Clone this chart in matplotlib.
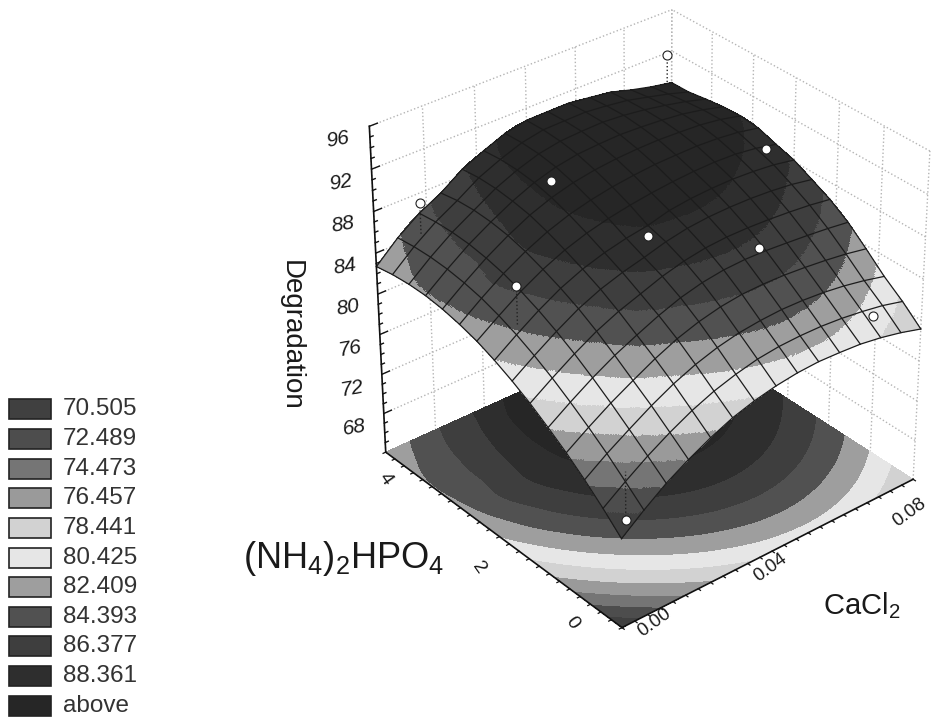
import numpy as np
import matplotlib
matplotlib.use('Agg')
import matplotlib.pyplot as plt
import matplotlib.tri as mtri
from matplotlib.colors import ListedColormap, BoundaryNorm
from matplotlib.patches import Rectangle
from mpl_toolkits.mplot3d import proj3d

plt.rcParams['font.family'] = ['Liberation Sans', 'DejaVu Sans']
plt.rcParams['mathtext.default'] = 'regular'

# ---------- data ----------
cacl2 = np.linspace(0, 0.08, 15)
nh4 = np.linspace(0, 4, 15)
# field that sets the colour bands (surface and floor)
band_field = np.array([
    [72.76,74.26,75.60,76.75,77.73,78.54,79.17,79.62,79.90,80.01,79.93,79.69,79.27,78.67,77.89],
    [74.32,75.76,77.04,78.14,79.08,79.85,80.44,80.87,81.12,81.20,81.12,80.86,80.44,79.84,79.07],
    [75.73,77.12,78.34,79.40,80.30,81.03,81.59,81.99,82.23,82.30,82.20,81.94,81.51,80.92,80.17],
    [77.00,78.33,79.51,80.53,81.39,82.08,82.62,83.00,83.22,83.28,83.18,82.92,82.50,81.92,81.18],
    [78.11,79.40,80.54,81.52,82.35,83.02,83.53,83.90,84.10,84.15,84.05,83.80,83.38,82.82,82.10],
    [79.09,80.33,81.43,82.38,83.18,83.82,84.32,84.67,84.87,84.92,84.82,84.58,84.18,83.63,82.93],
    [79.91,81.12,82.18,83.10,83.88,84.51,84.99,85.33,85.53,85.58,85.49,85.26,84.88,84.35,83.68],
    [80.59,81.77,82.80,83.69,84.45,85.06,85.54,85.88,86.08,86.14,86.06,85.84,85.48,84.98,84.35],
    [81.13,82.27,83.28,84.15,84.89,85.50,85.97,86.31,86.51,86.58,86.52,86.32,85.99,85.52,84.93],
    [81.51,82.63,83.62,84.47,85.20,85.80,86.28,86.62,86.83,86.92,86.88,86.71,86.40,85.98,85.42],
    [81.76,82.60,83.55,84.45,85.20,85.99,86.46,86.82,87.04,87.15,87.13,86.99,86.72,86.34,85.82],
    [81.85,82.55,83.50,84.35,85.15,86.05,86.53,86.90,87.14,87.27,87.28,87.18,86.95,86.61,86.14],
    [81.80,82.40,83.35,84.20,85.00,85.98,86.48,86.86,87.13,87.29,87.33,87.26,87.08,86.79,86.38],
    [81.60,82.15,83.10,83.94,84.77,85.79,86.30,86.71,87.01,87.19,87.28,87.25,87.12,86.87,86.52],
    [81.25,81.80,82.70,83.60,84.40,85.47,86.01,86.44,86.77,86.99,87.12,87.14,87.06,86.87,86.59],
])
# what must be added to reach the height read on the vertical axis
height_lift = np.array([
    [0.00,0.20,0.40,0.50,0.60,0.70,0.70,0.70,0.70,0.70,0.70,0.80,0.90,1.05,1.25],
    [0.10,0.20,0.35,0.50,0.65,0.75,0.80,0.85,0.85,0.85,0.90,1.00,1.15,1.40,1.65],
    [0.20,0.30,0.40,0.60,0.80,0.95,1.05,1.10,1.10,1.15,1.20,1.30,1.45,1.65,1.90],
    [0.30,0.40,0.55,0.70,0.95,1.20,1.35,1.45,1.50,1.50,1.55,1.65,1.85,2.15,2.50],
    [0.40,0.55,0.75,0.95,1.10,1.35,1.60,1.75,1.85,1.90,1.95,2.05,2.30,2.65,3.10],
    [0.55,0.75,1.00,1.25,1.40,1.50,1.75,1.95,2.10,2.20,2.30,2.45,2.70,3.05,3.45],
    [0.70,0.95,1.25,1.55,1.70,1.75,1.80,2.05,2.25,2.40,2.55,2.75,3.00,3.30,3.60],
    [0.85,1.15,1.50,1.80,1.95,2.00,2.00,2.00,2.35,2.55,2.75,3.00,3.25,3.55,3.80],
    [1.00,1.35,1.75,2.05,2.25,2.35,2.40,2.45,2.55,2.70,2.90,3.15,3.40,3.60,3.75],
    [1.10,1.55,2.00,2.35,2.60,2.75,2.80,2.85,2.90,3.00,3.10,3.30,3.50,3.70,3.85],
    [1.20,1.95,2.47,2.82,3.14,3.15,3.25,3.25,3.25,3.25,3.30,3.35,3.50,3.60,3.65],
    [1.30,2.23,2.78,3.17,3.49,3.50,3.65,3.65,3.55,3.50,3.40,3.35,3.35,3.30,3.25],
    [1.35,2.46,3.01,3.40,3.82,3.75,3.95,3.95,3.80,3.70,3.50,3.30,3.10,2.95,2.80],
    [1.40,2.65,3.20,3.55,4.05,3.95,4.20,4.20,3.95,3.80,3.50,3.25,2.90,2.65,2.40],
    [1.45,2.80,3.40,3.59,4.23,4.10,4.40,4.40,4.10,3.90,3.50,3.20,2.70,2.40,2.30],
])
point_x = [0.006, 0.040, 0.072, 0.006, 0.040, 0.072, 0.006, 0.040, 0.072]
point_y = [0.3, 0.3, 0.3, 2.0, 2.0, 2.0, 3.6, 3.6, 3.6]
point_z = [72.10, 92.05, 80.55, 87.45, 86.85, 90.40, 89.35, 86.35, 94.00]
drop_index = [0, 3, 6, 8]
drop_end = [76.8, 83.7, 86.2, 91.2]

legend_labels = ['70.505', '72.489', '74.473', '76.457', '78.441', '80.425',
                 '82.409', '84.393', '86.377', '88.361', 'above']
band_colors = ['#404040', '#4d4d4d', '#757575', '#9a9a9a', '#d2d2d2', '#e6e6e6',
               '#9e9e9e', '#515151', '#3e3e3e', '#2e2e2e', '#262626']
band_limits = [74.08, 75.39, 76.69, 78.00, 79.30, 80.60, 81.91, 83.22, 84.52, 85.84]

z_ticks = [68, 72, 76, 80, 84, 88, 92, 96]
x_tick_labels = ['0.00', '0.04', '0.08']
x_tick_values = [0.00, 0.04, 0.08]
y_tick_labels = ['0', '2', '4']
y_tick_values = [0, 2, 4]

surface_height = band_field + height_lift

# ---------- figure ----------
W, H = 936, 718
fig = plt.figure(figsize=(W / 100, H / 100), dpi=100, facecolor='white')
R = [314.52, 77.55, 649.16, 649.16]
ax = fig.add_axes([R[0] / W, R[1] / H, R[2] / W, R[3] / H], projection='3d',
                  computed_zorder=False)
ax.set_xlim(0, .08); ax.set_ylim(0, 4); ax.set_zlim(64, 96)
ax.view_init(elev=32.297, azim=-129.818)
ax.set_proj_type('persp', focal_length=.965)
ax.set_box_aspect((.999, .997, 1.0))
ax.set_axis_off()
ax.patch.set_alpha(0)

X0, X1, Y0, Y1, Z0, Z1 = 0, .08, 0, 4, 64, 96
grid_kw = dict(color='#b4b4b4', ls=':', lw=1.0, zorder=1)
for xv in np.linspace(X0, X1, 7):
    ax.plot([xv, xv], [Y1, Y1], [Z0, Z1], **grid_kw)
for yv in np.linspace(Y0, Y1, 7):
    ax.plot([X1, X1], [yv, yv], [Z0, Z1], **grid_kw)
for zv in z_ticks:
    ax.plot([X0, X1], [Y1, Y1], [zv, zv], **grid_kw)
    ax.plot([X1, X1], [Y0, Y1], [zv, zv], **grid_kw)

GX, GY = np.meshgrid(cacl2, nh4)
tri = mtri.Triangulation(GX.ravel(), GY.ravel())
refiner = mtri.UniformTriRefiner(tri)
tri_fine, band_fine = refiner.refine_field(band_field.ravel(), subdiv=4)
_, height_fine = refiner.refine_field(surface_height.ravel(), subdiv=4)

bounds = [0] + band_limits + [200]
cmap = ListedColormap(band_colors)
norm = BoundaryNorm(bounds, cmap.N)

ax.tricontourf(tri_fine, band_fine, levels=band_limits, colors=band_colors, extend='both',
               zdir='z', offset=Z0, zorder=2, antialiased=False)
poly = ax.plot_trisurf(tri_fine, height_fine, cmap=cmap, norm=norm, linewidth=0,
                       antialiased=False, shade=False, zorder=3)
poly.set_array(band_fine[tri_fine.get_masked_triangles()].mean(axis=1))

line_kw = dict(color='#1c1c1c', lw=0.9, zorder=4)
for j in range(len(nh4)):
    ax.plot(cacl2, np.full(len(cacl2), nh4[j]), surface_height[j, :], **line_kw)
for i in range(len(cacl2)):
    ax.plot(np.full(len(nh4), cacl2[i]), nh4, surface_height[:, i], **line_kw)

for k, zend in zip(drop_index, drop_end):
    ax.plot([point_x[k]] * 2, [point_y[k]] * 2, [point_z[k], zend], color='#222222',
            ls=':', lw=1.0, zorder=4.5)
ax.plot(point_x, point_y, point_z, ls='none', marker='o', ms=6.5, mfc='white', mec='#222222',
        mew=0.8, zorder=5)

# axes lines and ticks
ax_kw = dict(color='#111111', lw=1.2, zorder=6)
ax.plot([X0, X0], [Y1, Y1], [Z0, Z1], **ax_kw)
ax.plot([X0, X1], [Y0, Y0], [Z0, Z0], **ax_kw)
ax.plot([X0, X0], [Y0, Y1], [Z0, Z0], **ax_kw)
for zv in np.arange(65, 96.5, 1):
    ln = .0020 if zv in z_ticks else .0008
    ax.plot([X0, X0 + ln], [Y1, Y1], [zv, zv], color='#111111', lw=1.0, zorder=6)
for xv in np.linspace(X0, X1, 25):
    ax.plot([xv, xv], [Y0, Y0 - .035], [Z0, Z0], color='#111111', lw=0.9, zorder=6)
for yv in np.linspace(Y0, Y1, 25):
    ax.plot([X0, X0 - .0007], [yv, yv], [Z0, Z0], color='#111111', lw=0.9, zorder=6)

# overlay: legend, tick labels and axis names
ov = fig.add_axes([0, 0, 1, 1])
ov.set_xlim(0, W); ov.set_ylim(H, 0); ov.axis('off'); ov.patch.set_alpha(0)

ax.apply_aspect()
M = ax.get_proj()
def to_px(x, y, z):
    xs, ys, _ = proj3d.proj_transform(x, y, z, M)
    px = ax.transData.transform((float(xs), float(ys)))
    return px[0], H - px[1]

txt_kw = dict(color='#1a1a1a', ha='center', va='center')
for zv in z_ticks:
    px, py = to_px(-.0077, Y1, zv)
    ov.text(px, py + 1, str(zv), fontsize=15, style='italic', rotation=10, **txt_kw)
for val, lab, dx, dy in zip(x_tick_values, x_tick_labels, [.006, -.004, -.009], [-.15, -.2, -.42]):
    px, py = to_px(val + dx, dy, Z0)
    ov.text(px, py, lab, fontsize=13.5, rotation=36, **txt_kw)
for val, lab, dx, dy in zip(y_tick_values, y_tick_labels, [-.0068, -.0098, -.0058], [.38, -.29, -.40]):
    px, py = to_px(dx, val + dy, Z0)
    ov.text(px, py, lab, fontsize=14, rotation=-55, **txt_kw)

row_y = np.linspace(409.3, 705.7, len(legend_labels))
for yc, lab, col in zip(row_y, legend_labels, band_colors):
    ov.add_patch(Rectangle((9, yc - 10), 42, 20, facecolor=col, edgecolor='#222222', lw=1.2))
    ov.text(62.5, yc, lab, fontsize=17.5, color='#333333', ha='left', va='center')

ov.text(291, 335, 'Degradation', fontsize=20, rotation=-90, color='#1a1a1a', ha='center', va='center')
ov.text(344, 558, '(NH$_4$)$_2$HPO$_4$', fontsize=26, color='#1a1a1a', ha='center', va='center')
ov.text(862, 606, 'CaCl$_2$', fontsize=21, color='#1a1a1a', ha='center', va='center')

fig.savefig('out.png', dpi=100, facecolor='white')
